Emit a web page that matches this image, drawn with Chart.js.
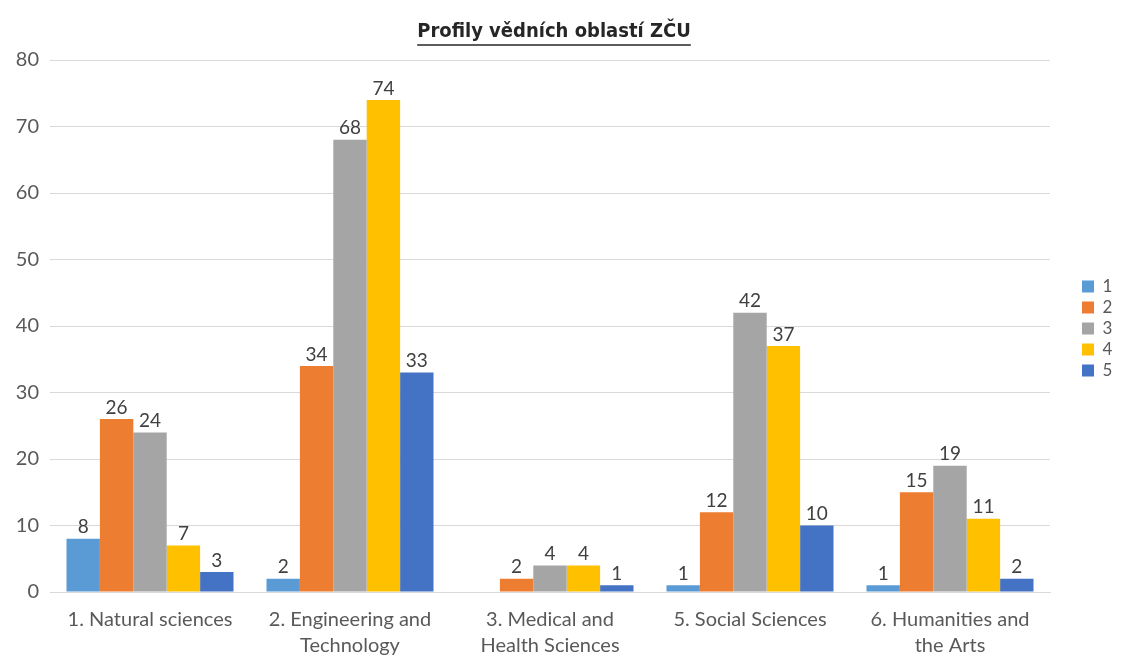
<!DOCTYPE html>
<html lang="cs">
<head>
<meta charset="utf-8">
<title>Profily vědních oblastí ZČU</title>
<script src="https://cdn.jsdelivr.net/npm/chart.js@4.4.1/dist/chart.umd.min.js"></script>
<style>
  html, body { margin: 0; padding: 0; background: #fff; }
  #wrap { width: 1124px; height: 657px; }
</style>
</head>
<body>
<div id="wrap"><canvas id="profily"></canvas></div>
<script>
// kategorie (vědní oblasti) - víceřádkové popisky jako v originálu
const categories = [
  ['1. Natural sciences'],
  ['2. Engineering and', 'Technology'],
  ['3. Medical and', 'Health Sciences'],
  ['5. Social Sciences'],
  ['6. Humanities and', 'the Arts'],
];

// hodnoty jednotlivých řad (1 až 5), null = sloupec chybí
const series1 = [8, 2, null, 1, 1];
const series2 = [26, 34, 2, 12, 15];
const series3 = [24, 68, 4, 42, 19];
const series4 = [7, 74, 4, 37, 11];
const series5 = [3, 33, 1, 10, 2];

const seriesLabels = ['1', '2', '3', '4', '5'];
const seriesColors = ['#5B9BD5', '#ED7D31', '#A5A5A5', '#FFC000', '#4472C4'];

const yTicks = [0, 10, 20, 30, 40, 50, 60, 70, 80];

const textColor = '#595959';
const bodyFont = "Lato, 'Open Sans', sans-serif";

// popisky hodnot nad sloupci
const valueLabels = {
  id: 'valueLabels',
  afterDatasetsDraw(chart) {
    const { ctx } = chart;
    ctx.save();
    ctx.font = '19px ' + bodyFont;
    ctx.fillStyle = '#404040';
    ctx.textAlign = 'center';
    ctx.textBaseline = 'bottom';
    chart.data.datasets.forEach((ds, i) => {
      const meta = chart.getDatasetMeta(i);
      meta.data.forEach((bar, j) => {
        const v = ds.data[j];
        if (v === null || v === undefined) return;
        ctx.fillText(String(v), bar.x, bar.y - 2);
      });
    });
    ctx.restore();
  },
};

// podtržení nadpisu (Chart.js to samo neumí)
const titleUnderline = {
  id: 'titleUnderline',
  afterDraw(chart) {
    const tb = chart.titleBlock;
    if (!tb) return;
    const opts = chart.options.plugins.title;
    const { ctx } = chart;
    ctx.save();
    ctx.font = `bold ${opts.font.size}px ${opts.font.family}`;
    const w = ctx.measureText(opts.text).width;
    const cx = (tb.left + tb.right) / 2;
    const y = tb.top + opts.padding.top + opts.font.size * 1.2 + 1;
    ctx.strokeStyle = '#262626';
    ctx.lineWidth = 1.5;
    ctx.beginPath();
    ctx.moveTo(cx - w / 2, y);
    ctx.lineTo(cx + w / 2, y);
    ctx.stroke();
    ctx.restore();
  },
};

// legenda vpravo: pevná šířka a odsazení od grafu
const legendSpace = {
  id: 'legendSpace',
  beforeUpdate(chart) {
    const lg = chart.legend;
    if (lg && !lg._patched) {
      const origFit = lg.fit;
      lg.fit = function () {
        origFit.call(this);
        this.width = 74;
      };
      lg._patched = true;
    }
  },
  afterLayout(chart) {
    if (chart.legend) {
      chart.legend.left = chart.chartArea.right + 28;
    }
    if (chart.titleBlock) {
      // nadpis je v originálu mírně vpravo od středu plochy grafu
      chart.titleBlock.left += 4;
      chart.titleBlock.right += 4;
    }
  },
};

const datasetValues = [series1, series2, series3, series4, series5];

const ctxChart = document.getElementById('profily');

const profilyChart = new Chart(ctxChart, {
  type: 'bar',
  data: {
    labels: categories,
    datasets: datasetValues.map((vals, i) => ({
      label: seriesLabels[i],
      data: vals,
      backgroundColor: seriesColors[i],
      borderWidth: 0,
      categoryPercentage: 0.835,
      barPercentage: 1.0,
    })),
  },
  options: {
    responsive: true,
    maintainAspectRatio: false,
    animation: false,
    layout: { padding: { left: 0, right: 0, top: 0, bottom: 0 } },
    plugins: {
      title: {
        display: true,
        text: 'Profily vědních oblastí ZČU',
        fullSize: false,
        color: '#262626',
        font: {
          family: "'Liberation Sans Narrow', 'DejaVu Sans Condensed', sans-serif",
          size: 20,
          weight: 'bold',
        },
        padding: { top: 20, bottom: 16 },
      },
      legend: {
        display: true,
        position: 'right',
        align: 'center',
        labels: {
          boxWidth: 12,
          boxHeight: 12,
          padding: 4,
          color: textColor,
          font: { family: bodyFont, size: 17 },
        },
      },
      tooltip: { enabled: false },
    },
    scales: {
      x: {
        grid: { display: false },
        border: { display: true, color: '#d9d9d9' },
        ticks: {
          color: textColor,
          font: { family: bodyFont, size: 20, lineHeight: 1.3 },
          padding: 7,
          maxRotation: 0,
          autoSkip: false,
        },
        afterFit(scale) {
          scale.height = 65;
        },
      },
      y: {
        min: yTicks[0],
        max: yTicks[yTicks.length - 1],
        afterBuildTicks(scale) {
          scale.ticks = yTicks.map((v) => ({ value: v }));
        },
        grid: { color: '#d9d9d9', drawTicks: false },
        border: { display: false },
        ticks: {
          color: textColor,
          font: { family: bodyFont, size: 20 },
          padding: 11,
        },
        afterFit(scale) {
          scale.width = 50;
        },
      },
    },
  },
  plugins: [valueLabels, titleUnderline, legendSpace],
});
</script>
</body>
</html>
